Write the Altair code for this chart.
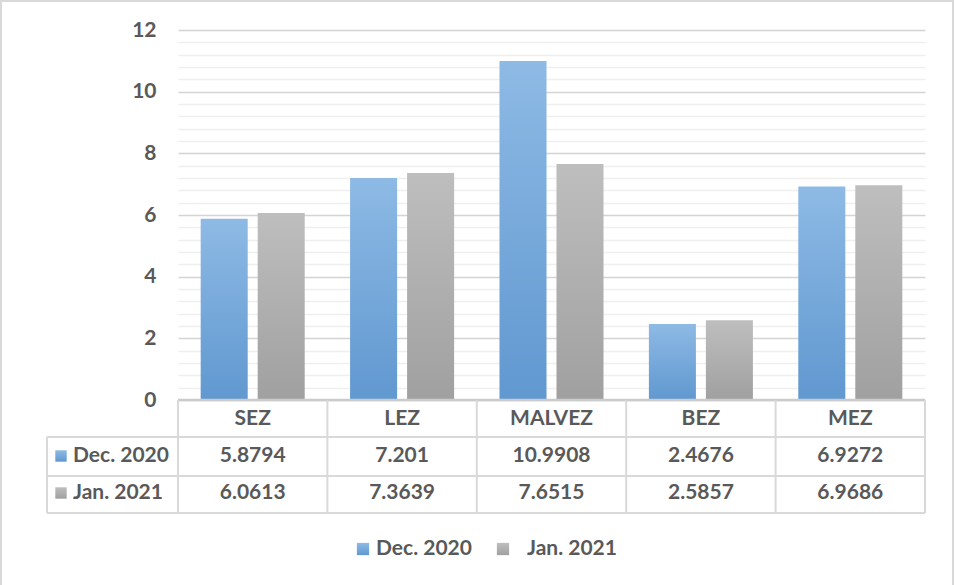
import altair as alt
import pandas as pd

# ---------------- data ----------------
categories = ["SEZ", "LEZ", "MALVEZ", "BEZ", "MEZ"]
series = ["Dec. 2020", "Jan. 2021"]
dec_2020 = [5.8794, 7.201, 10.9908, 2.4676, 6.9272]
jan_2021 = [6.0613, 7.3639, 7.6515, 2.5857, 6.9686]
y_major_ticks = [0, 2, 4, 6, 8, 10, 12]
y_minor_ticks = [0.4, 0.8, 1.2, 1.6, 2.4, 2.8, 3.2, 3.6, 4.4, 4.8, 5.2, 5.6,
                 6.4, 6.8, 7.2, 7.6, 8.4, 8.8, 9.2, 9.6, 10.4, 10.8, 11.2, 11.6]

rows = []
for s, vals in zip(series, [dec_2020, jan_2021]):
    for c, v in zip(categories, vals):
        rows.append({"category": c, "series": s, "value": v, "label": str(v)})
df = pd.DataFrame(rows)
cat_df = pd.DataFrame({"category": categories})
dummy = pd.DataFrame({"a": [0]})

# ---------------- style ----------------
W, H = 747, 370
FONT = "Lato"
TXT = "#595959"
FS = 21
LINE = "#D9D9D9"

blue_grad = alt.Gradient(gradient="linear", x1=0, x2=0, y1=0, y2=1,
                         stops=[alt.GradientStop(color="#8EBAE5", offset=0),
                                alt.GradientStop(color="#6098D0", offset=1)])
gray_grad = alt.Gradient(gradient="linear", x1=0, x2=0, y1=0, y2=1,
                         stops=[alt.GradientStop(color="#BEBEBE", offset=0),
                                alt.GradientStop(color="#A0A0A0", offset=1)])
grads = [blue_grad, gray_grad]

xscale = alt.Scale(domain=categories, paddingInner=0, paddingOuter=0)
yscale = alt.Scale(domain=[0, 12], nice=False, zero=True)
xoff_scale = alt.Scale(domain=series, paddingInner=0.175, paddingOuter=0.398)

minor_axis = alt.Axis(values=y_minor_ticks, labels=False, ticks=False, domain=False,
                      grid=True, gridColor="#EFEFEF", gridWidth=1.5, title=None, orient="left")
major_axis = alt.Axis(values=y_major_ticks, ticks=False, domain=False, grid=True,
                      gridColor="#D4D4D4", gridWidth=1.5, title=None, orient="left",
                      labelFont=FONT, labelFontSize=FS, labelFontWeight="bold",
                      labelColor=TXT, labelPadding=22)

base_x = alt.X("category:N", scale=xscale, axis=None, sort=categories)

layers = []
# minor grid carrier
layers.append(alt.Chart(df).mark_point(opacity=0).encode(
    x=base_x, y=alt.Y("value:Q", scale=yscale, axis=minor_axis)))

# bars
for i, (s, g) in enumerate(zip(series, grads)):
    layers.append(alt.Chart(df).transform_filter(alt.datum.series == s).mark_bar(fill=g).encode(
        x=base_x,
        xOffset=alt.XOffset("series:N", scale=xoff_scale, sort=series),
        y=alt.Y("value:Q", scale=yscale, axis=major_axis if i == 0 else None),
    ))

# table lines
layers.append(alt.Chart(dummy).mark_rule(color="#CBCBCB", strokeWidth=2.5).encode(
    x=alt.value(0), x2=alt.value(W), y=alt.value(H)))
for yy in [407, 446, 483]:
    layers.append(alt.Chart(dummy).mark_rule(color=LINE, strokeWidth=2).encode(
        x=alt.value(-131), x2=alt.value(W), y=alt.value(yy)))
layers.append(alt.Chart(cat_df).mark_rule(color=LINE, strokeWidth=2).encode(
    x=alt.X("category:N", scale=xscale, axis=None, sort=categories, bandPosition=0),
    y=alt.value(H), y2=alt.value(483)))
layers.append(alt.Chart(dummy).mark_rule(color=LINE, strokeWidth=2).encode(
    x=alt.value(W), y=alt.value(H), y2=alt.value(483)))
layers.append(alt.Chart(dummy).mark_rule(color=LINE, strokeWidth=2).encode(
    x=alt.value(-131), y=alt.value(407), y2=alt.value(483)))

# header row
layers.append(alt.Chart(cat_df).mark_text(font=FONT, fontSize=FS, fontWeight="bold",
                                          color=TXT, baseline="middle").encode(
    x=alt.X("category:N", scale=xscale, axis=None, sort=categories, bandPosition=0.5),
    y=alt.value(389), text="category:N"))

# value rows + row labels + legend
row_y = [426, 463]
legend_sq_x = [185, 325]
legend_tx_x = [198, 349]
for s, g, ry, lsx, ltx in zip(series, grads, row_y, legend_sq_x, legend_tx_x):
    layers.append(alt.Chart(df).transform_filter(alt.datum.series == s).mark_text(
        font=FONT, fontSize=FS, fontWeight="bold", color=TXT, baseline="middle").encode(
        x=alt.X("category:N", scale=xscale, axis=None, sort=categories, bandPosition=0.5),
        y=alt.value(ry), text="label:N"))
    sdf = pd.DataFrame({"series": [s]})
    layers.append(alt.Chart(sdf).mark_square(fill=g, size=130, opacity=1).encode(
        x=alt.value(-117), y=alt.value(ry)))
    layers.append(alt.Chart(sdf).mark_text(font=FONT, fontSize=FS, fontWeight="bold",
                                           color=TXT, align="left", baseline="middle").encode(
        x=alt.value(-105), y=alt.value(ry), text="series:N"))
    layers.append(alt.Chart(sdf).mark_square(fill=g, size=150, opacity=1).encode(
        x=alt.value(lsx), y=alt.value(519)))
    layers.append(alt.Chart(sdf).mark_text(font=FONT, fontSize=FS, fontWeight="bold",
                                           color=TXT, align="left", baseline="middle").encode(
        x=alt.value(ltx), y=alt.value(519), text="series:N"))

# outer chart border
layers.append(alt.Chart(dummy).mark_rect(fillOpacity=0, stroke=LINE, strokeWidth=2).encode(
    x=alt.value(-177), x2=alt.value(775), y=alt.value(-29), y2=alt.value(600)))

chart = alt.layer(*layers).resolve_axis(y="independent").properties(
    width=W, height=H,
    autosize=alt.AutoSizeParams(type="none"),
    padding={"left": 178, "top": 30, "right": 30, "bottom": 185},
    background="white",
).configure_view(stroke=None)

chart.save("out.html", embed_options={"renderer": "svg", "actions": False})
